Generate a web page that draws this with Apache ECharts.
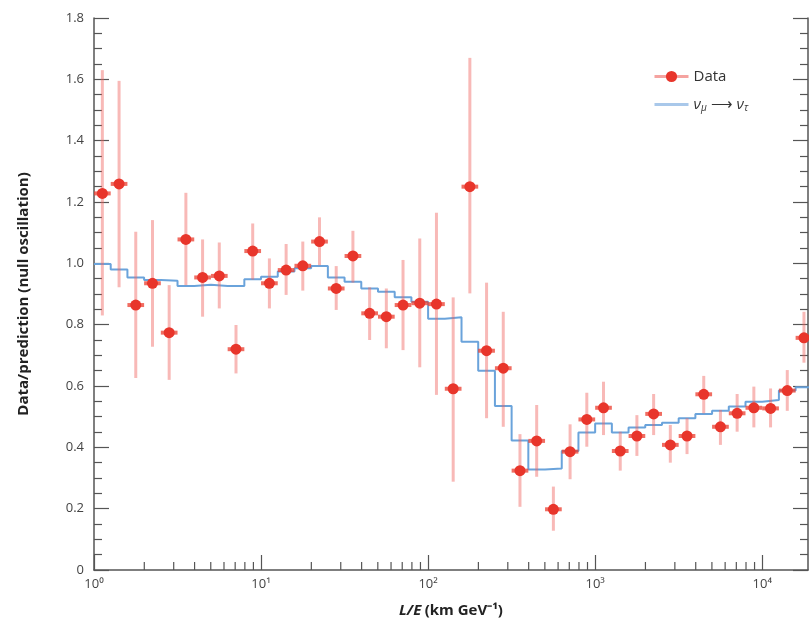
<!DOCTYPE html>
<html>
<head>
<meta charset="utf-8">
<script src="https://cdn.jsdelivr.net/npm/echarts@6/dist/echarts.min.js"></script>
<style>
  html, body { margin: 0; padding: 0; background: #fff; }
  #chart { width: 809px; height: 633px; }
</style>
</head>
<body>
<div id="chart"></div>
<script>
// 分箱边界 (L/E, km/GeV)，每十倍 10 个箱
const binEdges = [1, 1.259, 1.585, 1.995, 2.512, 3.162, 3.981, 5.012, 6.310, 7.943,
    10, 12.59, 15.85, 19.95, 25.12, 31.62, 39.81, 50.12, 63.10, 79.43,
    100, 125.9, 158.5, 199.5, 251.2, 316.2, 398.1, 501.2, 631.0, 794.3,
    1000, 1259, 1585, 1995, 2512, 3162, 3981, 5012, 6310, 7943,
    10000, 12589, 15849, 19953];
// 分箱中心
const binCenters = [1.122, 1.413, 1.778, 2.239, 2.818, 3.548, 4.467, 5.623, 7.079, 8.913,
    11.22, 14.13, 17.78, 22.39, 28.18, 35.48, 44.67, 56.23, 70.79, 89.13,
    112.2, 141.3, 177.8, 223.9, 281.8, 354.8, 446.7, 562.3, 707.9, 891.3,
    1122, 1413, 1778, 2239, 2818, 3548, 4467, 5623, 7079, 8913,
    11220, 14130, 17780];
// 数据点 Data/prediction
const dataVals = [1.228, 1.259, 0.864, 0.935, 0.774, 1.078, 0.954, 0.959, 0.720, 1.040,
    0.935, 0.978, 0.992, 1.071, 0.918, 1.024, 0.837, 0.826, 0.864, 0.870,
    0.867, 0.591, 1.250, 0.715, 0.658, 0.324, 0.421, 0.198, 0.386, 0.491,
    0.529, 0.388, 0.437, 0.509, 0.408, 0.437, 0.573, 0.467, 0.511, 0.529,
    0.527, 0.585, 0.757];
const errHigh = [1.63, 1.595, 1.103, 1.141, 0.929, 1.230, 1.078, 1.068, 0.799, 1.130,
    1.016, 1.063, 1.071, 1.150, 0.991, 1.106, 0.922, 0.918, 1.011, 1.081,
    1.165, 0.889, 1.67, 0.937, 0.842, 0.443, 0.538, 0.272, 0.475, 0.578,
    0.614, 0.451, 0.505, 0.574, 0.473, 0.495, 0.633, 0.522, 0.574, 0.598,
    0.592, 0.652, 0.842];
const errLow = [0.83, 0.922, 0.626, 0.728, 0.620, 0.929, 0.826, 0.853, 0.641, 0.947,
    0.853, 0.897, 0.911, 0.994, 0.848, 0.937, 0.750, 0.723, 0.717, 0.661,
    0.571, 0.288, 0.902, 0.495, 0.467, 0.206, 0.304, 0.128, 0.296, 0.402,
    0.440, 0.324, 0.372, 0.440, 0.350, 0.378, 0.511, 0.408, 0.451, 0.465,
    0.465, 0.519, 0.676];
// νμ → ντ 振荡预测（阶梯）
const oscVals = [0.998, 0.980, 0.954, 0.946, 0.943, 0.926, 0.930, 0.926, 0.926, 0.948,
    0.956, 0.973, 0.984, 0.991, 0.954, 0.940, 0.918, 0.907, 0.889, 0.875,
    0.819, 0.824, 0.744, 0.650, 0.535, 0.422, 0.328, 0.331, 0.388, 0.448,
    0.478, 0.448, 0.465, 0.473, 0.480, 0.495, 0.509, 0.519, 0.533, 0.549,
    0.554, 0.585, 0.596];
// x 轴次刻度
const minorTicks = [2, 3, 4, 5, 6, 7, 8, 9, 20, 30, 40, 50, 60, 70, 80, 90,
    200, 300, 400, 500, 600, 700, 800, 900, 2000, 3000, 4000, 5000, 6000, 7000, 8000, 9000];

const sup = { '0': '⁰', '1': '¹', '2': '²', '3': '³', '4': '⁴' };
const axisColor = '#555';
const labelFont = '"Open Sans", sans-serif';

const chart = echarts.init(document.getElementById('chart'));

const stepData = oscVals.map((v, i) => [binEdges[i], v]);
stepData.push([binEdges[oscVals.length], oscVals[oscVals.length - 1]]);

const errData = dataVals.map((v, i) => [binCenters[i], v, errLow[i], errHigh[i], binEdges[i], binEdges[i + 1]]);

const yAxisBase = {
    type: 'value',
    min: 0,
    max: 1.8,
    interval: 0.2,
    axisLine: { show: true, lineStyle: { color: axisColor, width: 1.5 } },
    axisTick: { inside: true, length: 15, lineStyle: { color: axisColor, width: 1.2 } },
    minorTick: { show: true, splitNumber: 4, length: 8, lineStyle: { color: axisColor, width: 1.2 } },
    splitLine: { show: false },
    minorSplitLine: { show: false }
};

const option = {
    animation: false,
    grid: { left: 94, right: 1, top: 18, bottom: 63 },
    legend: {
        orient: 'vertical',
        left: 648,
        top: 64,
        itemWidth: 34,
        itemHeight: 14,
        itemGap: 13,
        textStyle: {
            fontSize: 15,
            color: '#333',
            fontFamily: labelFont,
            rich: {
                g: { fontSize: 15, fontStyle: 'italic', color: '#333', fontFamily: labelFont },
                s: { fontSize: 10, fontStyle: 'italic', color: '#333', fontFamily: labelFont, padding: [8, 0, 0, 0] },
                a: { fontSize: 15, color: '#333', fontFamily: labelFont }
            }
        },
        formatter: function (name) {
            if (name === 'Data') return 'Data';
            return '{g|ν}{s|μ}{a| ⟶ }{g|ν}{s|τ}';
        },
        data: [
            { name: 'Data', lineStyle: { color: '#f5a3a0', width: 3, opacity: 1 } },
            { name: 'νμ→ντ', lineStyle: { color: '#a9c8ea', width: 3 }, itemStyle: { opacity: 0 } }
        ]
    },
    xAxis: {
        type: 'log',
        logBase: 10,
        min: 1,
        max: 18800,
        name: '{i|L/E} {b|(km GeV⁻¹)}',
        nameLocation: 'middle',
        nameGap: 33,
        nameTextStyle: {
            rich: {
                i: { fontSize: 15, fontWeight: 'bold', fontStyle: 'italic', color: '#222', fontFamily: labelFont },
                b: { fontSize: 15, fontWeight: 'bold', color: '#222', fontFamily: labelFont }
            }
        },
        axisLine: { show: true, lineStyle: { color: axisColor, width: 1.5 } },
        axisTick: { inside: true, length: 15, lineStyle: { color: axisColor, width: 1.2 } },
        axisLabel: {
            color: '#444',
            fontSize: 13,
            fontFamily: labelFont,
            margin: 8,
            showMaxLabel: false,
            formatter: function (v) {
                const e = Math.round(Math.log10(v));
                return '10' + (sup[String(e)] || '');
            }
        },
        splitLine: { show: false }
    },
    yAxis: [
        Object.assign({}, yAxisBase, {
            position: 'left',
            name: 'Data/prediction (null oscillation)',
            nameLocation: 'middle',
            nameGap: 63,
            nameTextStyle: { fontSize: 15, fontWeight: 'bold', color: '#222', fontFamily: labelFont },
            axisLabel: {
                color: '#444',
                fontSize: 13,
                fontFamily: labelFont,
                margin: 10,
                formatter: function (v) { return v === 0 ? '0' : v.toFixed(1); }
            }
        }),
        Object.assign({}, yAxisBase, {
            position: 'right',
            axisLabel: { show: false }
        })
    ],
    series: [
        {
            name: 'νμ→ντ',
            type: 'line',
            step: 'end',
            data: stepData,
            symbol: 'none',
            lineStyle: { color: '#6aa3db', width: 2 },
            itemStyle: { color: '#6aa3db' },
            z: 2
        },
        {
            name: 'errors',
            type: 'custom',
            data: errData,
            silent: true,
            z: 3,
            renderItem: function (params, api) {
                const x = api.value(0);
                const y = api.value(1);
                const pLo = api.coord([x, api.value(2)]);
                const pHi = api.coord([x, api.value(3)]);
                const pL = api.coord([api.value(4), y]);
                const pR = api.coord([api.value(5), y]);
                return {
                    type: 'group',
                    children: [
                        {
                            type: 'line',
                            shape: { x1: pLo[0], y1: pLo[1], x2: pHi[0], y2: pHi[1] },
                            style: { stroke: 'rgba(240,100,95,0.45)', lineWidth: 3 }
                        },
                        {
                            type: 'line',
                            shape: { x1: pL[0], y1: pL[1], x2: pR[0], y2: pR[1] },
                            style: { stroke: 'rgba(235,60,45,0.75)', lineWidth: 4 }
                        }
                    ]
                };
            }
        },
        {
            name: 'Data',
            type: 'line',
            data: dataVals.map((v, i) => [binCenters[i], v]),
            symbol: 'circle',
            symbolSize: 11,
            showSymbol: true,
            lineStyle: { opacity: 0, width: 0 },
            itemStyle: { color: '#e8352b' },
            z: 4
        },
        {
            name: 'minorTicks',
            type: 'custom',
            data: minorTicks.map(v => [v, 0]),
            silent: true,
            z: 5,
            renderItem: function (params, api) {
                const p = api.coord([api.value(0), 0]);
                return {
                    type: 'line',
                    shape: { x1: p[0], y1: p[1], x2: p[0], y2: p[1] - 8 },
                    style: { stroke: axisColor, lineWidth: 1.2 }
                };
            }
        }
    ]
};

chart.setOption(option);

window.addEventListener('resize', function () {
    chart.resize();
});
</script>
</body>
</html>
